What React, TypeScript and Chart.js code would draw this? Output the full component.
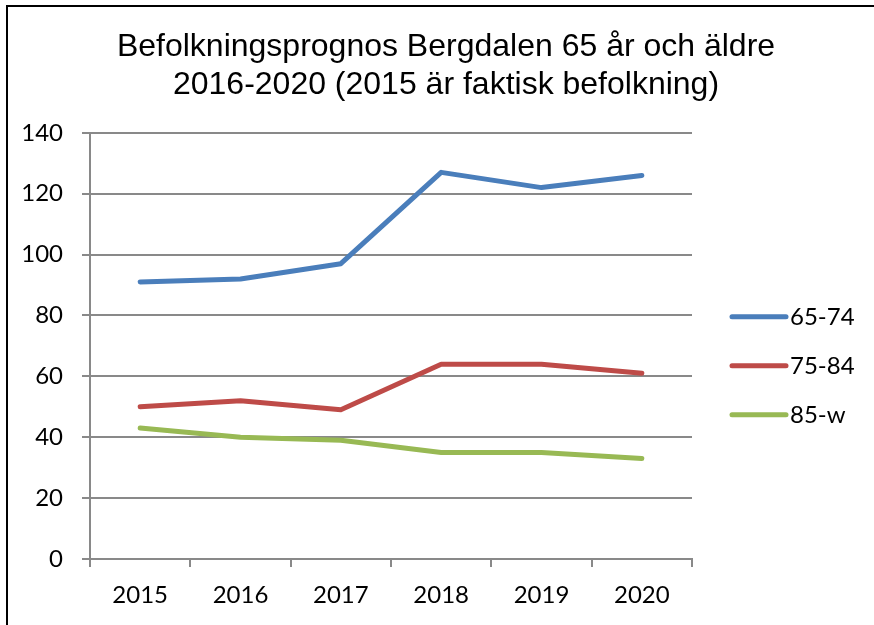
import React, { useEffect, useRef } from "react";
import { Chart, registerables } from "chart.js";

Chart.register(...registerables);

const titleLines = [
  "Befolkningsprognos Bergdalen 65 år och äldre",
  "2016-2020 (2015 är faktisk befolkning)",
];
const categories = ["2015", "2016", "2017", "2018", "2019", "2020"];
const seriesNames = ["65-74", "75-84", "85-w"];
const series6574 = [91, 92, 97, 127, 122, 126];
const series7584 = [50, 52, 49, 64, 64, 61];
const series85w = [43, 40, 39, 35, 35, 33];
const seriesColors = ["#4A7EBB", "#BE4B48", "#98B954"];
const yMin = 0;
const yMax = 140;
const yStep = 20;

const AXIS_FONT = "Lato, 'Open Sans', sans-serif";
const AXIS_SIZE = 24;
const GRID = "#898989";

const sideLegend = {
  id: "sideLegend",
  afterDraw(chart: any) {
    const ctx = chart.ctx;
    const { right, top } = chart.chartArea;
    ctx.save();
    chart.data.datasets.forEach((ds: any, i: number) => {
      const y = top + 184 + i * 49;
      const x0 = right + 40;
      ctx.strokeStyle = ds.borderColor;
      ctx.lineWidth = 5;
      ctx.lineCap = "round";
      ctx.beginPath();
      ctx.moveTo(x0, y);
      ctx.lineTo(x0 + 54, y);
      ctx.stroke();
      ctx.fillStyle = "#000";
      ctx.font = `${AXIS_SIZE}px ${AXIS_FONT}`;
      ctx.textBaseline = "middle";
      ctx.textAlign = "left";
      ctx.fillText(ds.label, x0 + 58, y);
    });
    ctx.restore();
  },
};

export default function App() {
  const ref = useRef<HTMLCanvasElement>(null);
  useEffect(() => {
    const values = [series6574, series7584, series85w];
    const chart = new Chart(ref.current!, {
      type: "line",
      data: {
        labels: categories,
        datasets: seriesNames.map((name, i) => ({
          label: name,
          data: values[i],
          borderColor: seriesColors[i],
          backgroundColor: seriesColors[i],
          borderWidth: 5,
          borderCapStyle: "round" as const,
          borderJoinStyle: "round" as const,
          pointRadius: 0,
          tension: 0,
          yAxisID: "y",
        })),
      },
      options: {
        animation: false,
        responsive: false,
        layout: { padding: { left: 18, right: 0, top: 0, bottom: 0 } },
        plugins: {
          legend: { display: false },
          tooltip: { enabled: false },
          title: {
            display: true,
            text: titleLines,
            color: "#000",
            font: { family: "'Liberation Sans', Arial, sans-serif", size: 32, weight: "normal", lineHeight: 1.2 },
            padding: { top: 28, bottom: 28 },
          },
        },
        scales: {
          x: {
            offset: true,
            grid: {
              offset: true,
              drawOnChartArea: false,
              drawTicks: true,
              tickLength: 8,
              color: GRID,
              lineWidth: 2,
            },
            border: { display: true, color: GRID, width: 2 },
            ticks: { color: "#000", font: { family: AXIS_FONT, size: AXIS_SIZE }, padding: 14, maxRotation: 0 },
            afterFit: (s: any) => { s.height = 66; },
          },
          y: {
            min: yMin,
            max: yMax,
            grid: { color: GRID, lineWidth: 2, tickLength: 8, drawTicks: true },
            border: { display: true, color: GRID, width: 2 },
            ticks: { stepSize: yStep, color: "#000", font: { family: AXIS_FONT, size: AXIS_SIZE }, padding: 19 },
            afterFit: (s: any) => { s.width = 72; },
          },
          legendSpace: {
            type: "linear",
            position: "right",
            display: true,
            grid: { display: false, drawTicks: false },
            border: { display: false },
            ticks: { display: false },
            afterFit: (s: any) => { s.width = 182; },
          },
        },
      },
      plugins: [sideLegend],
    });
    return () => chart.destroy();
  }, []);
  return (
    <div style={{ position: "absolute", left: 0, top: 0, width: 874, height: 625, overflow: "hidden", background: "#fff" }}>
      <canvas ref={ref} width={874} height={625} style={{ position: "absolute", left: 0, top: 0 }} />
      <div
        style={{
          position: "absolute",
          left: 6,
          top: 5,
          width: 866,
          height: 618,
          borderTop: "2px solid #000",
          borderLeft: "2px solid #000",
          pointerEvents: "none",
        }}
      />
    </div>
  );
}
